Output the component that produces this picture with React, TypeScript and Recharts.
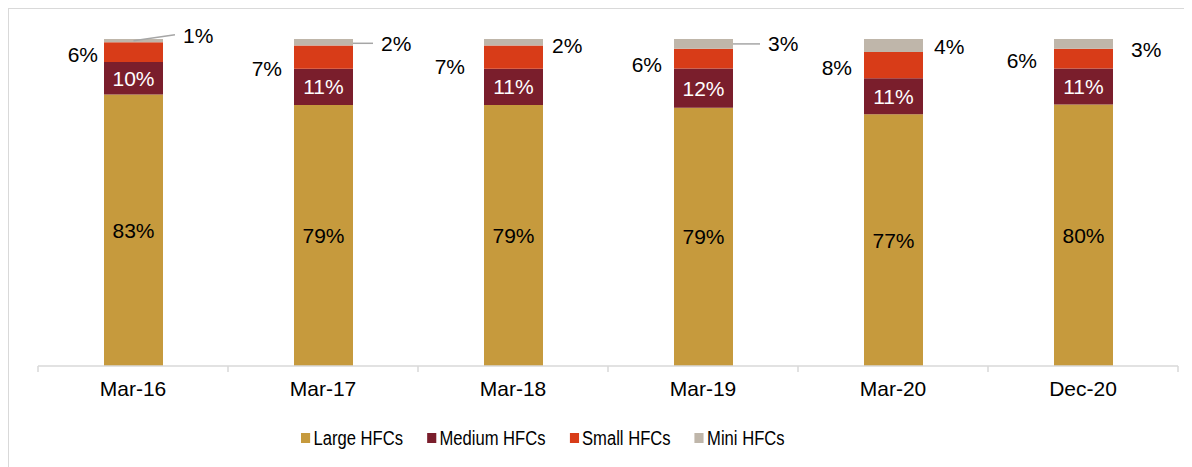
import React from "react";
import { BarChart, Bar, XAxis, YAxis, LabelList } from "recharts";

// Parts de marché des HFC par taille, en % (libellés).
const categories = ["Mar-16", "Mar-17", "Mar-18", "Mar-19", "Mar-20", "Dec-20"];
const largeHfcs = [83, 79, 79, 79, 77, 80];
const mediumHfcs = [10, 11, 11, 12, 11, 11];
const smallHfcs = [6, 7, 7, 6, 8, 6];
const miniHfcs = [1, 2, 2, 3, 4, 3];

// Placement manuel des étiquettes extérieures (comme dans le fichier Excel d'origine).
const smallLabelGap = [6, 12, 19, 12, 12, 17];
const smallLabelShift = [2, 11, 9, 6, 2, 2];
const miniLabelGap = [20, 28, 9, 35, 11, 18];
const miniLabelShift = [-5, 1, 3, 0, 1, 6];
const miniLeader = [true, true, false, true, false, false];

const COLORS = {
  large: "#c69a3d",
  medium: "#7a1e2c",
  small: "#d83c18",
  mini: "#bfb6aa",
};

const FONT = "'Liberation Sans', Arial, sans-serif";
const CHART_W = 1184;
const MARGIN = { top: 30, right: 15, left: 29, bottom: 23 };
const BAND = (CHART_W - MARGIN.left - MARGIN.right) / categories.length;

const data = categories.map((c, i) => ({
  cat: c,
  large: largeHfcs[i],
  medium: mediumHfcs[i],
  small: smallHfcs[i],
  mini: miniHfcs[i],
}));

const CenterLabel = (values: number[], fill: string) => (props: any) => {
  const { x, y, width, height, index } = props;
  return (
    <text
      x={x + width / 2}
      y={y + height / 2}
      textAnchor="middle"
      dominantBaseline="central"
      fill={fill}
      fontSize={21}
      fontFamily={FONT}
    >
      {values[index]}%
    </text>
  );
};

const SmallLabel = (props: any) => {
  const { x, y, height, index } = props;
  return (
    <text
      x={x - smallLabelGap[index]}
      y={y + height / 2 + smallLabelShift[index]}
      textAnchor="end"
      dominantBaseline="central"
      fill="#000"
      fontSize={21}
      fontFamily={FONT}
    >
      {smallHfcs[index]}%
    </text>
  );
};

const MiniLabel = (props: any) => {
  const { x, y, width, height, index } = props;
  const tx = x + width + miniLabelGap[index];
  const ty = y + height / 2 + miniLabelShift[index];
  return (
    <g>
      {miniLeader[index] && (
        <line
          x1={index === 0 ? x + width / 2 : x + width}
          y1={index === 0 ? y + height / 2 : ty}
          x2={tx - 8}
          y2={ty - (index === 0 ? 1 : 0)}
          stroke="#a6a6a6"
          strokeWidth={1.5}
        />
      )}
      <text
        x={tx}
        y={ty}
        textAnchor="start"
        dominantBaseline="central"
        fill="#000"
        fontSize={21}
        fontFamily={FONT}
      >
        {miniHfcs[index]}%
      </text>
    </g>
  );
};

const CategoryTick = (props: any) => {
  const { x, y, payload, index } = props;
  const last = index === categories.length - 1;
  return (
    <g>
      <line x1={x - BAND / 2} y1={y} x2={x - BAND / 2} y2={y + 6} stroke="#d9d9d9" strokeWidth={1.5} />
      {last && (
        <line x1={x + BAND / 2} y1={y} x2={x + BAND / 2} y2={y + 6} stroke="#d9d9d9" strokeWidth={1.5} />
      )}
      <text
        x={x}
        y={y + 22}
        textAnchor="middle"
        dominantBaseline="central"
        fill="#000"
        fontSize={21}
        fontFamily={FONT}
      >
        {payload.value}
      </text>
    </g>
  );
};

const legendItems = [
  { label: "Large HFCs", color: COLORS.large },
  { label: "Medium HFCs", color: COLORS.medium },
  { label: "Small HFCs", color: COLORS.small },
  { label: "Mini HFCs", color: COLORS.mini },
];

export default function App() {
  return (
    <div
      style={{
        position: "relative",
        width: CHART_W,
        height: 470,
        borderTop: "1px solid #d9d9d9",
        borderLeft: "1px solid #d9d9d9",
        boxSizing: "border-box",
        background: "#fff",
      }}
    >
      <BarChart
        width={CHART_W}
        height={420}
        data={data}
        margin={MARGIN}
        stackOffset="expand"
        barSize={59}
      >
        <YAxis hide domain={[0, 1]} />
        <XAxis
          dataKey="cat"
          height={40}
          axisLine={{ stroke: "#d9d9d9", strokeWidth: 1.5 }}
          tickLine={false}
          tickSize={0}
          tickMargin={0}
          interval={0}
          tick={<CategoryTick />}
        />
        <Bar dataKey="large" stackId="a" fill={COLORS.large} isAnimationActive={false}>
          <LabelList dataKey="large" content={CenterLabel(largeHfcs, "#000")} />
        </Bar>
        <Bar dataKey="medium" stackId="a" fill={COLORS.medium} isAnimationActive={false}>
          <LabelList dataKey="medium" content={CenterLabel(mediumHfcs, "#fff")} />
        </Bar>
        <Bar dataKey="small" stackId="a" fill={COLORS.small} isAnimationActive={false}>
          <LabelList dataKey="small" content={SmallLabel} />
        </Bar>
        <Bar dataKey="mini" stackId="a" fill={COLORS.mini} isAnimationActive={false}>
          <LabelList dataKey="mini" content={MiniLabel} />
        </Bar>
      </BarChart>
      {/* Légende : police un peu resserrée comme dans l'original */}
      <div
        style={{
          position: "absolute",
          left: 292,
          top: 417,
          height: 24,
          display: "flex",
          alignItems: "center",
          gap: 29,
          fontFamily: FONT,
          fontSize: 20,
          color: "#000",
          transform: "scaleX(0.83)",
          transformOrigin: "0 50%",
          whiteSpace: "nowrap",
        }}
      >
        {legendItems.map((it) => (
          <div key={it.label} style={{ display: "flex", alignItems: "center" }}>
            <span
              style={{
                width: 11,
                height: 10,
                background: it.color,
                display: "inline-block",
                marginRight: 4,
              }}
            />
            <span>{it.label}</span>
          </div>
        ))}
      </div>
    </div>
  );
}
